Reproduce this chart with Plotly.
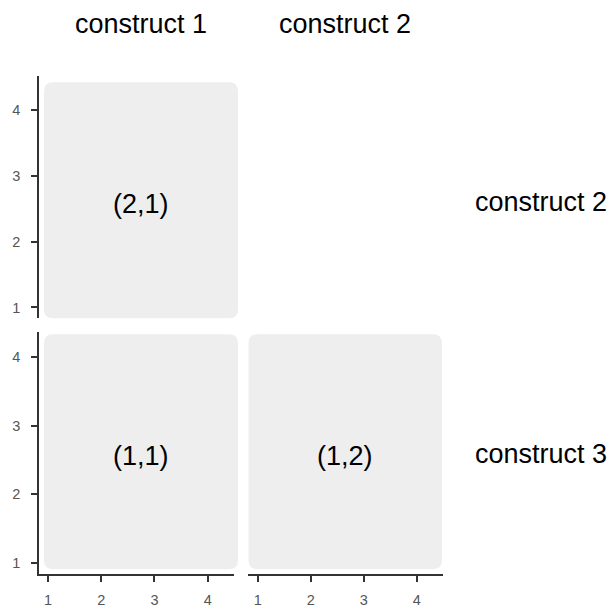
import plotly.graph_objects as go

# ---- data ----
col_titles = ["construct 1", "construct 2"]
row_titles = ["construct 2", "construct 3"]
tick_vals = [1, 2, 3, 4]
panel_labels = ["(2,1)", "(1,1)", "(1,2)"]
panel_rows = [0, 1, 1]   # 0 = top row, 1 = bottom row
panel_cols = [0, 0, 1]

W = H = 608
# pixel geometry of the plotting areas
col_px = [(39.3, 234.0), (248.0, 443.0)]
row_px = [(77.0, 321.0), (335.0, 579.0)]
rect_col_px = [(44.0, 238.0), (248.5, 442.0)]
rect_row_px = [(83.0, 321.0), (337.0, 574.0)]
x_ranges = [[0.836, 4.494], [0.817, 4.496]]
y_ranges = [[0.834, 4.51], [0.837, 4.36]]

def px(x):
    return x / W

def py(y):
    return 1 - y / H

fig = go.Figure()

axis_style = dict(
    showline=True, linecolor="#333333", linewidth=2,
    ticks="outside", ticklen=6, tickwidth=2, tickcolor="#333333",
    showgrid=False, zeroline=False,
    tickvals=tick_vals, ticktext=[str(v) for v in tick_vals],
    tickfont=dict(family="Liberation Sans, Arial", size=14.5, color="#555555"),
    fixedrange=True,
)

for i, (r, c) in enumerate(zip(panel_rows, panel_cols)):
    n = "" if i == 0 else str(i + 1)
    xa = "xaxis" + n
    ya = "yaxis" + n
    fig.add_trace(go.Scatter(x=tick_vals, y=tick_vals, mode="markers",
                             marker=dict(opacity=0), hoverinfo="skip",
                             showlegend=False, xaxis="x" + n, yaxis="y" + n))
    show_x = (r == 1)
    show_y = (c == 0)
    xd = dict(axis_style, domain=[px(col_px[c][0]), px(col_px[c][1])],
              range=x_ranges[c], anchor="y" + n, visible=show_x,
              ticklabelstandoff=5)
    yd = dict(axis_style, domain=[py(row_px[r][1]), py(row_px[r][0])],
              range=y_ranges[r], anchor="x" + n, visible=show_y,
              ticklabelstandoff=8)
    fig.update_layout(**{xa: xd, ya: yd})

    # rounded background rectangle (paper coords)
    x0, x1 = rect_col_px[c]
    y0, y1 = rect_row_px[r]
    rad = 9
    def P(xp, yp):
        return f"{px(xp):.5f},{py(yp):.5f}"
    path = (f"M {P(x0 + rad, y0)} L {P(x1 - rad, y0)} Q {P(x1, y0)} {P(x1, y0 + rad)} "
            f"L {P(x1, y1 - rad)} Q {P(x1, y1)} {P(x1 - rad, y1)} "
            f"L {P(x0 + rad, y1)} Q {P(x0, y1)} {P(x0, y1 - rad)} "
            f"L {P(x0, y0 + rad)} Q {P(x0, y0)} {P(x0 + rad, y0)} Z")
    fig.add_shape(type="path", path=path, xref="paper", yref="paper",
                  fillcolor="#EEEEEE", line=dict(width=0), layer="below")

    fig.add_annotation(x=px((x0 + x1) / 2), y=py((y0 + y1) / 2 + 4),
                       xref="paper", yref="paper", text=panel_labels[i],
                       showarrow=False, xanchor="center", yanchor="middle",
                       font=dict(family="Liberation Sans, Arial", size=27, color="#000000"))

# column titles
for c, t in enumerate(col_titles):
    x0, x1 = rect_col_px[c]
    fig.add_annotation(x=px((x0 + x1) / 2), y=py(24), xref="paper", yref="paper",
                       text=t, showarrow=False, xanchor="center", yanchor="middle",
                       font=dict(family="Liberation Sans, Arial", size=27, color="#000000"))

# row titles
for r, t in enumerate(row_titles):
    y0, y1 = rect_row_px[r]
    fig.add_annotation(x=px(473), y=py((y0 + y1) / 2 + 2), xref="paper", yref="paper",
                       text=t, showarrow=False, xanchor="left", yanchor="middle",
                       font=dict(family="Liberation Sans, Arial", size=27, color="#000000"))

fig.update_layout(width=W, height=H, margin=dict(l=0, r=0, t=0, b=0),
                  paper_bgcolor="white", plot_bgcolor="rgba(0,0,0,0)",
                  showlegend=False)

fig.write_html("out.html", config={"displayModeBar": False},
               post_script="document.body.style.margin='0';document.body.style.overflow='hidden';")
